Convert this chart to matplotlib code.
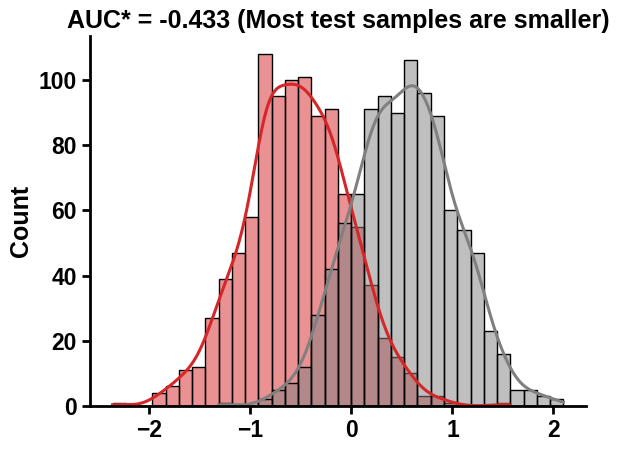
import matplotlib
matplotlib.use('Agg')
import matplotlib.pyplot as plt
import numpy as np

plt.rcParams['font.family'] = ['Liberation Sans', 'DejaVu Sans']
plt.rcParams['font.weight'] = 'bold'

# Shared histogram bins (34 bins)
bin_lo = -2.365
bin_hi = 2.098
n_bins = 34

# Counts per bin
test_counts = [1, 0, 0, 4, 6, 11, 12, 27, 39, 47, 58, 108, 95, 100, 101, 89, 91,
               65, 55, 37, 21, 15, 10, 3, 3, 1, 0, 0, 0, 1, 0, 0, 0, 0]
ref_counts = [0, 0, 0, 0, 0, 0, 0, 0, 1, 0, 0, 2, 5, 7, 12, 28, 42,
              56, 65, 91, 95, 90, 106, 96, 89, 60, 54, 47, 23, 16, 5, 5, 3, 2]

title = 'AUC* = -0.433 (Most test samples are smaller)'


def weighted_kde(centers, counts, edges):
    # Gaussian KDE from binned counts, scaled to counts per bin
    counts = np.asarray(counts, dtype=float)
    n = counts.sum()
    mean = np.sum(centers * counts) / n
    std = np.sqrt(np.sum(counts * (centers - mean) ** 2) / n)
    bw = std * n ** (-1 / 5)
    nz = np.nonzero(counts)[0]
    grid = np.linspace(edges[nz[0]], edges[nz[-1] + 1], 300)
    dens = np.zeros_like(grid)
    for c, w in zip(centers, counts):
        dens += w * np.exp(-0.5 * ((grid - c) / bw) ** 2)
    dens /= (n * bw * np.sqrt(2 * np.pi))
    width = edges[1] - edges[0]
    return grid, dens * n * width


edges = np.linspace(bin_lo, bin_hi, n_bins + 1)
centers = (edges[:-1] + edges[1:]) / 2

fig = plt.figure(figsize=(6.18, 4.49), dpi=100)
ax = fig.add_axes([0.1456, 0.0958, 0.8024, 0.824])

# red drawn first, gray layered on top
ax.hist(centers, bins=edges, weights=test_counts, facecolor=(214/255, 39/255, 40/255, 0.5),
        edgecolor='black', linewidth=1)
ax.hist(centers, bins=edges, weights=ref_counts, facecolor=(0.5, 0.5, 0.5, 0.5),
        edgecolor='black', linewidth=1)

rx, ry = weighted_kde(centers, test_counts, edges)
ax.plot(rx, ry, color='#d62728', lw=2.2)
gx, gy = weighted_kde(centers, ref_counts, edges)
ax.plot(gx, gy, color='gray', lw=2.2)

ax.set_xlim(-2.588, 2.321)
ax.set_ylim(0, 113.5)
ax.set_xticks([-2, -1, 0, 1, 2])
ax.set_yticks([0, 20, 40, 60, 80, 100])

for side in ['top', 'right']:
    ax.spines[side].set_visible(False)
for side in ['left', 'bottom']:
    ax.spines[side].set_linewidth(2)
ax.tick_params(axis='both', width=2, length=6, labelsize=16.5)
for lab in ax.get_xticklabels() + ax.get_yticklabels():
    lab.set_fontweight('bold')

ax.set_ylabel('Count', fontsize=18, fontweight='bold')
ax.set_title(title, fontsize=18, fontweight='bold')

plt.savefig('out.png', dpi=100)
